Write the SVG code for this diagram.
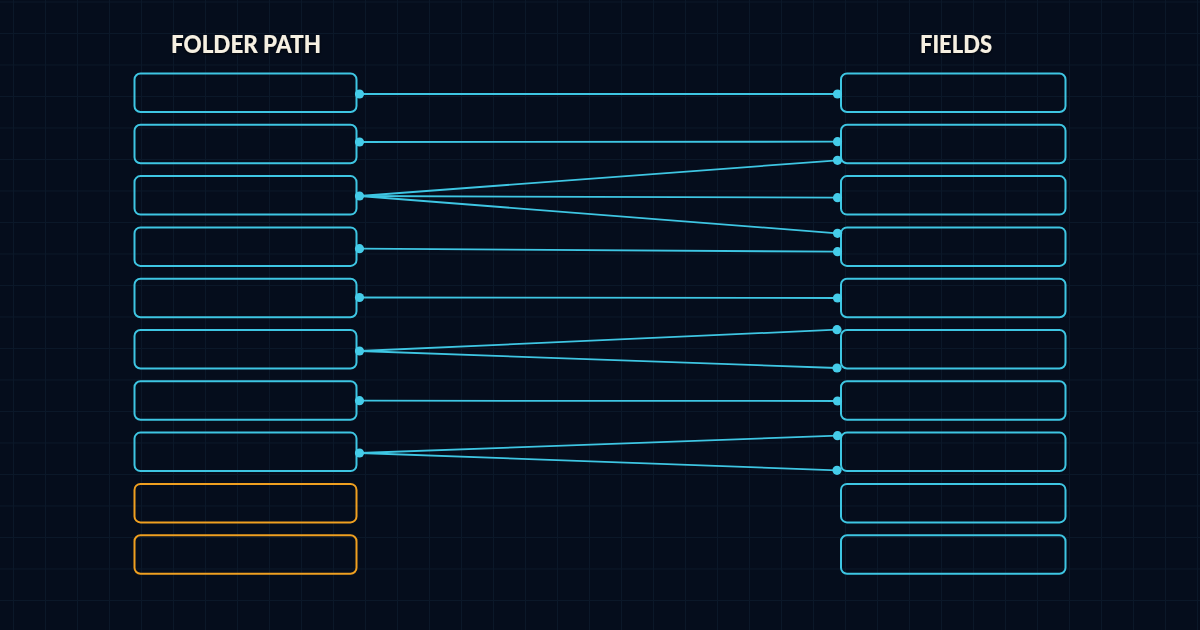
<svg xmlns="http://www.w3.org/2000/svg" width="1200" height="630" viewBox="0 0 1200 630">
<defs>
<pattern id="grid" patternUnits="userSpaceOnUse" x="13" y="1.5" width="32" height="31.5">
<path d="M0.5 0V31.5M0 0.5H32" fill="none" stroke="#0b1829" stroke-width="1"/>
</pattern>
<filter id="tshadow" x="-10%" y="-30%" width="120%" height="160%">
<feDropShadow dx="0" dy="1" stdDeviation="1.5" flood-color="#000" flood-opacity="0.8"/>
</filter>
</defs>
<style>
.box{fill:none;stroke:#3ec6e3;stroke-width:2}
.warn{fill:none;stroke:#f0a020;stroke-width:2}
.title{font-family:"Lato","Liberation Sans",sans-serif;font-weight:900;font-size:24px;fill:#f6f0e2}
.link{stroke:#3ec6e3;stroke-width:1.8;fill:none}
.dot{fill:#45cce9}
</style>
<rect width="1200" height="630" fill="#050d1c"/>
<rect width="1200" height="630" fill="url(#grid)"/>
<text class="title" x="246" y="52.5" text-anchor="middle" textLength="150" lengthAdjust="spacingAndGlyphs" filter="url(#tshadow)">FOLDER PATH</text>
<text class="title" x="956" y="52.5" text-anchor="middle" textLength="72" lengthAdjust="spacingAndGlyphs" filter="url(#tshadow)">FIELDS</text>
<g id="left-nodes">
<g id="L1"><rect class="box" x="134.5" y="73.5" width="222" height="38.5" rx="6"/></g>
<g id="L2"><rect class="box" x="134.5" y="124.8" width="222" height="38.5" rx="6"/></g>
<g id="L3"><rect class="box" x="134.5" y="176.1" width="222" height="38.5" rx="6"/></g>
<g id="L4"><rect class="box" x="134.5" y="227.4" width="222" height="38.5" rx="6"/></g>
<g id="L5"><rect class="box" x="134.5" y="278.7" width="222" height="38.5" rx="6"/></g>
<g id="L6"><rect class="box" x="134.5" y="330" width="222" height="38.5" rx="6"/></g>
<g id="L7"><rect class="box" x="134.5" y="381.3" width="222" height="38.5" rx="6"/></g>
<g id="L8"><rect class="box" x="134.5" y="432.6" width="222" height="38.5" rx="6"/></g>
<g id="L9"><rect class="warn" x="134.5" y="483.9" width="222" height="38.5" rx="6"/></g>
<g id="L10"><rect class="warn" x="134.5" y="535.2" width="222" height="38.5" rx="6"/></g>
</g>
<g id="right-nodes">
<g id="R1"><rect class="box" x="841" y="73.5" width="224.5" height="38.5" rx="6"/></g>
<g id="R2"><rect class="box" x="841" y="124.8" width="224.5" height="38.5" rx="6"/></g>
<g id="R3"><rect class="box" x="841" y="176.1" width="224.5" height="38.5" rx="6"/></g>
<g id="R4"><rect class="box" x="841" y="227.4" width="224.5" height="38.5" rx="6"/></g>
<g id="R5"><rect class="box" x="841" y="278.7" width="224.5" height="38.5" rx="6"/></g>
<g id="R6"><rect class="box" x="841" y="330" width="224.5" height="38.5" rx="6"/></g>
<g id="R7"><rect class="box" x="841" y="381.3" width="224.5" height="38.5" rx="6"/></g>
<g id="R8"><rect class="box" x="841" y="432.6" width="224.5" height="38.5" rx="6"/></g>
<g id="R9"><rect class="box" x="841" y="483.9" width="224.5" height="38.5" rx="6"/></g>
<g id="R10"><rect class="box" x="841" y="535.2" width="224.5" height="38.5" rx="6"/></g>
</g>
<g id="connectors">
<line class="link" x1="359.5" y1="94" x2="837.5" y2="94"/>
<line class="link" x1="359.5" y1="142" x2="837.5" y2="141.7"/>
<line class="link" x1="359.5" y1="196" x2="837.5" y2="160.3"/>
<line class="link" x1="359.5" y1="196" x2="837.5" y2="197.7"/>
<line class="link" x1="359.5" y1="196" x2="837.5" y2="233.3"/>
<line class="link" x1="359.5" y1="248.7" x2="837.5" y2="251.7"/>
<line class="link" x1="359.5" y1="297.5" x2="837.5" y2="298"/>
<line class="link" x1="359.5" y1="351" x2="837" y2="329.7"/>
<line class="link" x1="359.5" y1="351" x2="837" y2="368"/>
<line class="link" x1="359.5" y1="400.7" x2="837.5" y2="401"/>
<line class="link" x1="359.5" y1="453" x2="837.5" y2="435.7"/>
<line class="link" x1="359.5" y1="453" x2="837" y2="470.3"/>
<g id="dots">
<circle class="dot" cx="359.5" cy="94" r="4.6"/>
<circle class="dot" cx="359.5" cy="142" r="4.6"/>
<circle class="dot" cx="359.5" cy="196" r="4.6"/>
<circle class="dot" cx="359.5" cy="248.7" r="4.6"/>
<circle class="dot" cx="359.5" cy="297.5" r="4.6"/>
<circle class="dot" cx="359.5" cy="351" r="4.6"/>
<circle class="dot" cx="359.5" cy="400.7" r="4.6"/>
<circle class="dot" cx="359.5" cy="453" r="4.6"/>
<circle class="dot" cx="837.5" cy="94" r="4.6"/>
<circle class="dot" cx="837.5" cy="141.7" r="4.6"/>
<circle class="dot" cx="837.5" cy="160.3" r="4.6"/>
<circle class="dot" cx="837.5" cy="197.7" r="4.6"/>
<circle class="dot" cx="837.5" cy="233.3" r="4.6"/>
<circle class="dot" cx="837.5" cy="251.7" r="4.6"/>
<circle class="dot" cx="837.5" cy="298" r="4.6"/>
<circle class="dot" cx="837" cy="329.7" r="4.6"/>
<circle class="dot" cx="837" cy="368" r="4.6"/>
<circle class="dot" cx="837.5" cy="401" r="4.6"/>
<circle class="dot" cx="837.5" cy="435.7" r="4.6"/>
<circle class="dot" cx="837" cy="470.3" r="4.6"/>
</g>
</g>
</svg>
